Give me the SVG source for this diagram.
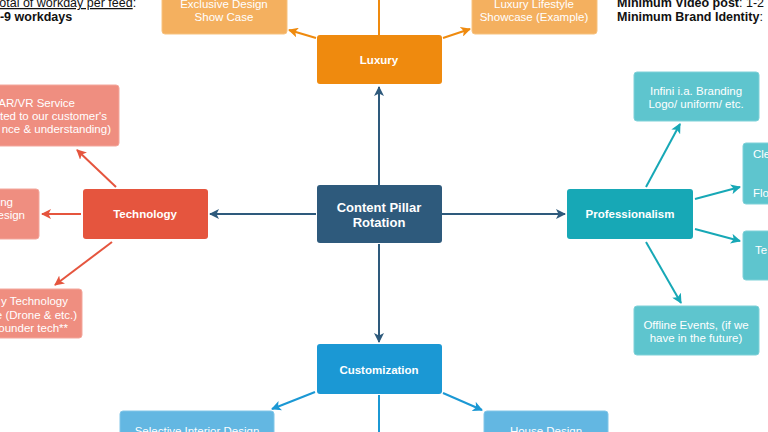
<svg xmlns="http://www.w3.org/2000/svg" width="768" height="432" viewBox="0 0 768 432">
<defs>
<style>
text{font-family:"Liberation Sans",Arial,sans-serif;}
.t{fill:#fff;font-size:11.5px;text-anchor:middle;}
.b{fill:#fff;font-size:11.5px;font-weight:bold;text-anchor:middle;}
.c{fill:#fff;font-size:13px;font-weight:bold;text-anchor:middle;}
.e{fill:#fff;font-size:11.5px;text-anchor:end;}
.s{fill:#fff;font-size:11.5px;}
.note{fill:#111;font-size:12.5px;}
.ln{fill:none;stroke-width:2;}
</style>
<marker id="aB" markerWidth="10" markerHeight="10" refX="9" refY="5" orient="auto" markerUnits="userSpaceOnUse"><path d="M0,0 L10,5 L0,10 L2.5,5 Z" fill="#2e5a7c"/></marker>
<marker id="aO" markerWidth="10" markerHeight="10" refX="9" refY="5" orient="auto" markerUnits="userSpaceOnUse"><path d="M0,0 L10,5 L0,10 L2.5,5 Z" fill="#ef8a0e"/></marker>
<marker id="aR" markerWidth="10" markerHeight="10" refX="9" refY="5" orient="auto" markerUnits="userSpaceOnUse"><path d="M0,0 L10,5 L0,10 L2.5,5 Z" fill="#e5553e"/></marker>
<marker id="aT" markerWidth="10" markerHeight="10" refX="9" refY="5" orient="auto" markerUnits="userSpaceOnUse"><path d="M0,0 L10,5 L0,10 L2.5,5 Z" fill="#17a8b6"/></marker>
<marker id="aC" markerWidth="10" markerHeight="10" refX="9" refY="5" orient="auto" markerUnits="userSpaceOnUse"><path d="M0,0 L10,5 L0,10 L2.5,5 Z" fill="#1b98d4"/></marker>
</defs>
<rect width="768" height="432" fill="#fff"/>

<g id="connectors">
<line class="ln" stroke="#2e5a7c" x1="379" y1="185" x2="379" y2="87" marker-end="url(#aB)"/>
<line class="ln" stroke="#2e5a7c" x1="316" y1="214" x2="210" y2="214" marker-end="url(#aB)"/>
<line class="ln" stroke="#2e5a7c" x1="442" y1="214" x2="565" y2="214" marker-end="url(#aB)"/>
<line class="ln" stroke="#2e5a7c" x1="379" y1="244" x2="379" y2="342" marker-end="url(#aB)"/>
<line class="ln" stroke="#ef8a0e" x1="379" y1="0" x2="379" y2="35"/>
<line class="ln" stroke="#ef8a0e" x1="316" y1="38" x2="289" y2="30" marker-end="url(#aO)"/>
<line class="ln" stroke="#ef8a0e" x1="443" y1="38" x2="470" y2="29" marker-end="url(#aO)"/>
<line class="ln" stroke="#e5553e" x1="116" y1="187" x2="77" y2="150" marker-end="url(#aR)"/>
<line class="ln" stroke="#e5553e" x1="81" y1="214" x2="42" y2="214" marker-end="url(#aR)"/>
<line class="ln" stroke="#e5553e" x1="112" y1="242" x2="55" y2="285" marker-end="url(#aR)"/>
<line class="ln" stroke="#17a8b6" x1="646" y1="187" x2="680" y2="124" marker-end="url(#aT)"/>
<line class="ln" stroke="#17a8b6" x1="695" y1="199" x2="740" y2="187" marker-end="url(#aT)"/>
<line class="ln" stroke="#17a8b6" x1="695" y1="229" x2="740" y2="241" marker-end="url(#aT)"/>
<line class="ln" stroke="#17a8b6" x1="646" y1="242" x2="681" y2="303" marker-end="url(#aT)"/>
<line class="ln" stroke="#1b98d4" x1="315" y1="392" x2="272" y2="409" marker-end="url(#aC)"/>
<line class="ln" stroke="#1b98d4" x1="443" y1="393" x2="482" y2="410" marker-end="url(#aC)"/>
<line class="ln" stroke="#1b98d4" x1="379" y1="395" x2="379" y2="432"/>
</g>

<g id="note-left">
<text class="note" x="-7" y="7"><tspan text-decoration="underline">Total of workday per feed</tspan>:</text>
<text class="note" x="-7" y="21" font-weight="bold">5-9 workdays</text>
</g>
<g id="note-right">
<text class="note" x="617" y="7"><tspan font-weight="bold">Minimum Video post</tspan>: 1-2</text>
<text class="note" x="617" y="21"><tspan font-weight="bold">Minimum Brand Identity</tspan>:</text>
</g>

<g id="center">
<rect x="317" y="185" width="125" height="58" rx="3" fill="#2e5a7c"/>
<text class="c" x="379" y="212">Content Pillar</text>
<text class="c" x="379" y="227">Rotation</text>
</g>

<g id="luxury">
<rect x="317" y="35" width="125" height="49" rx="3" fill="#ef8a0e"/>
<text class="b" x="379" y="64">Luxury</text>
</g>
<g id="exclusive">
<rect x="162" y="-20" width="125" height="54" rx="3" fill="#f4b05f" stroke="#f7c27f"/>
<text class="t" x="224" y="8">Exclusive Design</text>
<text class="t" x="224" y="21">Show Case</text>
</g>
<g id="lifestyle">
<rect x="472" y="-20" width="125" height="54" rx="3" fill="#f4b05f" stroke="#f7c27f"/>
<text class="t" x="534" y="8">Luxury Lifestyle</text>
<text class="t" x="534" y="21">Showcase (Example)</text>
</g>

<g id="technology">
<rect x="83" y="189" width="125" height="50" rx="3" fill="#e5553e"/>
<text class="b" x="145" y="218">Technology</text>
</g>
<g id="arvr">
<rect x="-10" y="85" width="129" height="61" rx="3" fill="#ef8e80" stroke="#f3a79c"/>
<text class="e" x="75" y="107">AR/VR Service</text>
<text class="e" x="107" y="120">ted to our customer's</text>
<text class="e" x="111" y="133">nce &amp; understanding)</text>
</g>
<g id="design-left">
<rect x="-10" y="189" width="49" height="50" rx="3" fill="#ef8e80" stroke="#f3a79c"/>
<text class="e" x="13" y="206">ng</text>
<text class="e" x="25" y="219">esign</text>
</g>
<g id="tech-bottom">
<rect x="-10" y="289" width="92" height="49" rx="3" fill="#ef8e80" stroke="#f3a79c"/>
<text class="e" x="68" y="305">y Technology</text>
<text class="e" x="77" y="319">e (Drone &amp; etc.)</text>
<text class="e" x="68" y="332">ounder tech**</text>
</g>

<g id="professionalism">
<rect x="567" y="189" width="126" height="50" rx="3" fill="#17a8b6"/>
<text class="b" x="630" y="218">Professionalism</text>
</g>
<g id="infini">
<rect x="634" y="72" width="125" height="49" rx="3" fill="#5ec5ce" stroke="#7fd1d8"/>
<text class="t" x="696" y="95">Infini i.a. Branding</text>
<text class="t" x="696" y="108">Logo/ uniform/ etc.</text>
</g>
<g id="cle">
<rect x="743" y="143" width="40" height="61" rx="3" fill="#5ec5ce" stroke="#7fd1d8"/>
<text class="s" x="753" y="158">Cle</text>
<text class="s" x="753" y="197">Flo</text>
</g>
<g id="te">
<rect x="743" y="231" width="40" height="49" rx="3" fill="#5ec5ce" stroke="#7fd1d8"/>
<text class="s" x="755" y="254">Te</text>
</g>
<g id="offline">
<rect x="634" y="306" width="125" height="49" rx="3" fill="#5ec5ce" stroke="#7fd1d8"/>
<text class="t" x="696" y="329">Offline Events, (if we</text>
<text class="t" x="696" y="342">have in the future)</text>
</g>

<g id="customization">
<rect x="317" y="344" width="125" height="50" rx="3" fill="#1b98d4"/>
<text class="b" x="379" y="374">Customization</text>
</g>
<g id="selective">
<rect x="120" y="411" width="154" height="40" rx="3" fill="#63b7e2" stroke="#82c6e8"/>
<text class="t" x="197" y="435">Selective Interior Design</text>
</g>
<g id="house">
<rect x="484" y="411" width="124" height="40" rx="3" fill="#63b7e2" stroke="#82c6e8"/>
<text class="t" x="546" y="435">House Design</text>
</g>
</svg>
